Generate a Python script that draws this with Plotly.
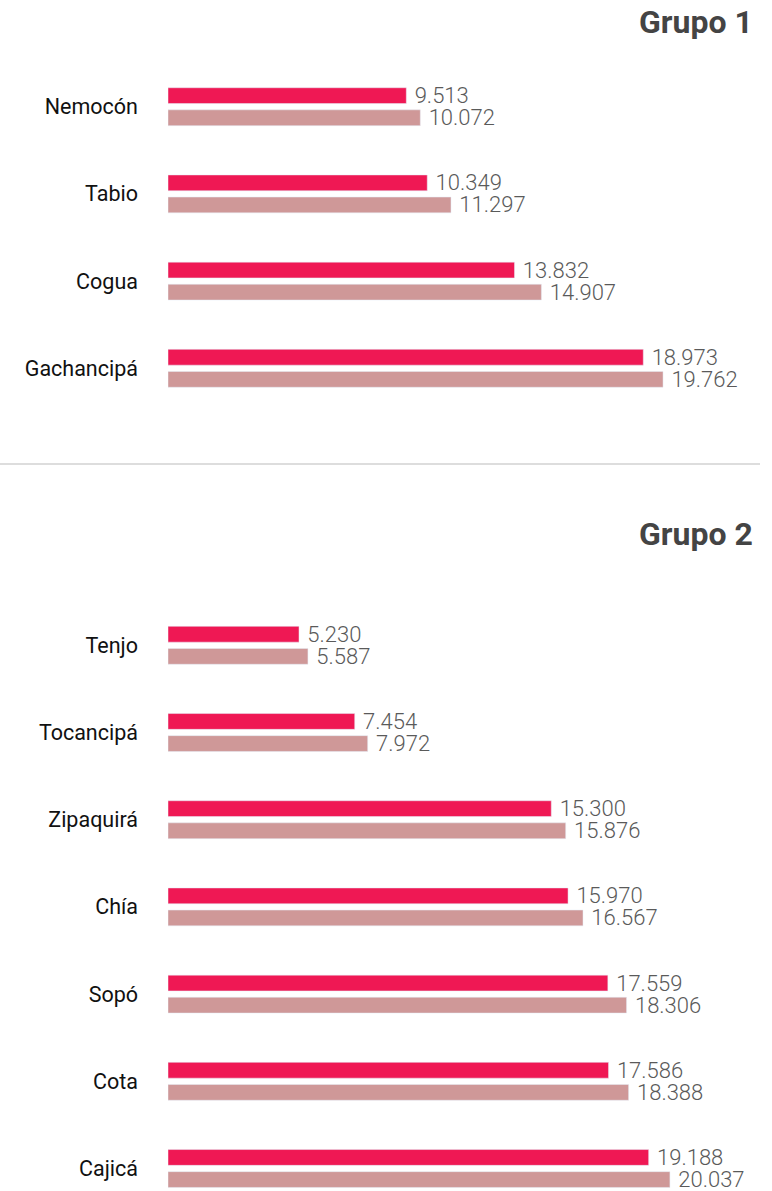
import plotly.graph_objects as go

# ---- data ----
grupo1_cats = ["Nemocón", "Tabio", "Cogua", "Gachancipá"]
grupo1_a = [9513, 10349, 13832, 18973]
grupo1_b = [10072, 11297, 14907, 19762]

grupo2_cats = ["Tenjo", "Tocancipá", "Zipaquirá", "Chía", "Sopó", "Cota", "Cajicá"]
grupo2_a = [5230, 7454, 15300, 15970, 17559, 17586, 19188]
grupo2_b = [5587, 7972, 15876, 16567, 18306, 18388, 20037]

titles = ["Grupo 1", "Grupo 2"]

RED = "#EF1854"
PINK = "#CF9898"
W, H = 772, 1191

fig = go.Figure()

def add_pair(cats, a, b, xa, ya):
    for vals, col in ((a, RED), (b, PINK)):
        fig.add_trace(go.Bar(
            y=cats, x=vals, orientation="h", marker_color=col,
            xaxis=xa, yaxis=ya,
            texttemplate="\u00a0%{x:,}", textposition="outside",
            textfont=dict(family="Roboto", size=22, color="#5a5a5a", weight=300),
            constraintext="none", cliponaxis=False, hoverinfo="skip",
            showlegend=False,
        ))

add_pair(grupo1_cats, grupo1_a, grupo1_b, "x", "y")
add_pair(grupo2_cats, grupo2_a, grupo2_b, "x2", "y2")

px_per_unit = 25.05 / 1000.0
x0 = 168
xmax = (W - x0) / px_per_unit
step = 87.2

def yaxis_cfg(cats, top_center, bottom_px=None):
    top_px = top_center - step / 2
    n = len(cats)
    if bottom_px is None:
        bottom_px = top_center + (n - 0.5) * step
        rmax = n - 0.5
    else:
        rmax = (n - 1) + (bottom_px - (top_center + (n - 1) * step)) / step
    return dict(
        domain=[1 - bottom_px / H, 1 - top_px / H],
        range=[rmax, -0.5],
        categoryorder="array", categoryarray=cats,
        showgrid=False, zeroline=False, showline=False, ticks="",
        ticklabelstandoff=29,
        tickfont=dict(family="Roboto", size=21.5, color="#111111"),
    )

y1 = yaxis_cfg(grupo1_cats, 106.7)
y1["anchor"] = "x"
y2 = yaxis_cfg(grupo2_cats, 645.3, bottom_px=H)
y2["anchor"] = "x2"

xcfg = dict(domain=[x0 / W, 1], range=[0, xmax], visible=False, fixedrange=True)

fig.update_layout(
    width=W, height=H,
    margin=dict(l=0, r=0, t=0, b=0),
    paper_bgcolor="white", plot_bgcolor="white",
    separators=",.",
    barmode="group", bargap=0.493, bargroupgap=0.285,
    xaxis=dict(xcfg, anchor="y"),
    xaxis2=dict(xcfg, anchor="y2"),
    yaxis=y1, yaxis2=y2,
    showlegend=False,
    shapes=[dict(type="line", xref="paper", yref="paper",
                 x0=0, x1=760 / W, y0=1 - 464 / H, y1=1 - 464 / H,
                 line=dict(color="#DDDDDD", width=2))],
    annotations=[
        dict(text=titles[0], xref="paper", yref="paper", x=755 / W, y=1 - 22 / H,
             xanchor="right", yanchor="middle", showarrow=False,
             font=dict(family="Roboto", size=32, color="#444444", weight=700)),
        dict(text=titles[1], xref="paper", yref="paper", x=755 / W, y=1 - 534 / H,
             xanchor="right", yanchor="middle", showarrow=False,
             font=dict(family="Roboto", size=32, color="#444444", weight=700)),
    ],
)

fig.write_html(
    "out.html",
    config={"displayModeBar": False},
    post_script="document.body.style.margin='0';document.body.style.overflow='hidden';",
)
